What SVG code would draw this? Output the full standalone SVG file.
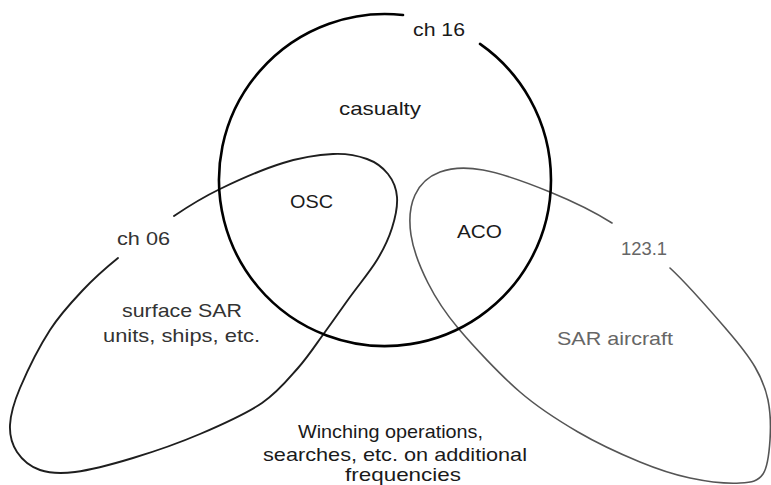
<svg xmlns="http://www.w3.org/2000/svg" width="771" height="485" viewBox="0 0 771 485">
<style>
.t{font-family:"Liberation Sans",Arial,sans-serif;font-size:19px;fill:#1a1a1a}
.g{fill:#666}
.d{fill:#333}
.shape{fill:none;stroke-linecap:round;stroke-linejoin:round}
</style>
<rect width="771" height="485" fill="#fff"/>
<g id="surface-units">
<path class="shape" stroke="#1e1e1e" stroke-width="1.9" d="M174 216 C191 204.5 201.8 197.8 220 189 C238.2 180.2 264.2 168.8 283 163 C301.8 157.2 319 154.7 333 154 C347 153.3 357.8 155.7 367 159 C376.2 162.3 383 167.7 388 174 C393 180.3 396.3 188 397 197 C397.7 206 395.3 217.5 392 228 C388.7 238.5 384 248.5 377 260 C370 271.5 358.7 285 350 297 C341.3 309 333.7 320.2 325 332 C316.3 343.8 308.5 356.2 298 368 C287.5 379.8 278.3 392 262 403 C245.7 414 221.5 424.8 200 434 C178.5 443.2 153.8 451.7 133 458 C112.2 464.3 90.5 470 75 472 C59.5 474 49.7 473.3 40 470 C30.3 466.7 22 459.5 17 452 C12 444.5 9.5 435.7 10 425 C10.5 414.3 13.3 403.8 20 388 C26.7 372.2 39.5 346.3 50 330 C60.5 313.7 71.7 302 83 290 C94.3 278 102.8 270.3 118 258"/>
<text class="t d" x="117" y="245" textLength="53" lengthAdjust="spacingAndGlyphs">ch 06</text>
<text class="t d" x="122" y="317" textLength="120" lengthAdjust="spacingAndGlyphs">surface SAR</text>
<text class="t d" x="103" y="342" textLength="157" lengthAdjust="spacingAndGlyphs">units, ships, etc.</text>
</g>
<g id="sar-aircraft">
<path class="shape" stroke="#555" stroke-width="1.6" d="M670 268 C689.2 285.8 712.8 313.5 727 330 C741.2 346.5 748.2 355.3 755 367 C761.8 378.7 765.5 387.8 768 400 C770.5 412.2 770.8 427.7 770 440 C769.2 452.3 768 466.8 763 474 C758 481.2 752.2 482.3 740 483 C727.8 483.7 706.7 481.5 690 478 C673.3 474.5 658.7 469.7 640 462 C621.3 454.3 598 443.7 578 432 C558 420.3 540 409.3 520 392 C500 374.7 473.3 346.2 458 328 C442.7 309.8 435.8 298.5 428 283 C420.2 267.5 413.2 249.7 411 235 C408.8 220.3 410.2 205.5 415 195 C419.8 184.5 428.7 176.2 440 172 C451.3 167.8 464.7 166.7 483 170 C501.3 173.3 528.5 183.2 550 192 C571.5 200.8 592 210.3 612 223"/>
<text class="t g" x="621" y="255" textLength="46" lengthAdjust="spacingAndGlyphs">123.1</text>
<text class="t g" x="557" y="345" textLength="116" lengthAdjust="spacingAndGlyphs">SAR aircraft</text>
</g>
<g id="casualty">
<path class="shape" stroke="#000" stroke-width="2.6" d="M480 43.9 A166 166 0 1 1 403 15"/>
<text class="t" x="413" y="36" textLength="52" lengthAdjust="spacingAndGlyphs">ch 16</text>
<text class="t" x="339" y="115" textLength="82" lengthAdjust="spacingAndGlyphs">casualty</text>
</g>
<g id="osc">
<text class="t" x="290" y="208" textLength="43" lengthAdjust="spacingAndGlyphs">OSC</text>
</g>
<g id="aco">
<text class="t" x="457" y="238" textLength="45" lengthAdjust="spacingAndGlyphs">ACO</text>
</g>
<g id="note">
<text class="t" x="298" y="438" textLength="185" lengthAdjust="spacingAndGlyphs">Winching operations,</text>
<text class="t" x="263" y="461" textLength="264" lengthAdjust="spacingAndGlyphs">searches, etc. on additional</text>
<text class="t" x="345" y="481" textLength="116" lengthAdjust="spacingAndGlyphs">frequencies</text>
</g>
<g id="connectors"/>
</svg>
